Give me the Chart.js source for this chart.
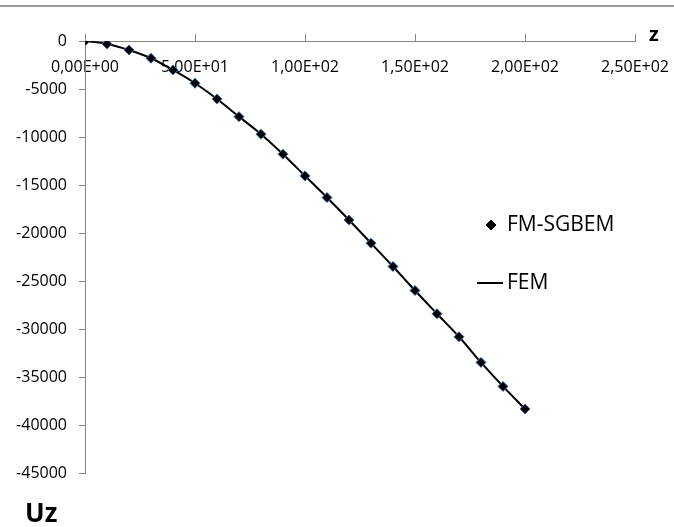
<!DOCTYPE html>
<html><head><meta charset="utf-8">
<script src="https://cdn.jsdelivr.net/npm/chart.js@4/dist/chart.umd.min.js"></script>
<style>html,body{margin:0;padding:0;background:#fff;}#wrap{width:674px;height:527px;position:relative;}</style>
</head><body><div id="wrap"><canvas id="c" width="674" height="527"></canvas></div>
<script>
// ---- data ----
const zValues = [0,10,20,30,40,50,60,70,80,90,100,110,120,130,140,150,160,170,180,190,200];
const fmSgbemUz = [0,-310,-940,-1800,-3020,-4400,-6040,-7880,-9710,-11790,-14050,-16310,-18650,-21060,-23490,-25990,-28410,-30810,-33480,-35980,-38330];
const femUz = [0,-310,-940,-1800,-3020,-4400,-6040,-7880,-9710,-11790,-14050,-16310,-18650,-21060,-23490,-25990,-28410,-30810,-33480,-35980,-38330];
const seriesNames = ['FM-SGBEM','FEM'];
const xTickValues = [0,50,100,150,200,250];
const yTickValues = [0,-5000,-10000,-15000,-20000,-25000,-30000,-35000,-40000,-45000];
const xTitle = 'z';
const yTitle = 'Uz';

function sci(v){
  if (v === 0) return '0,00E+00';
  const e = Math.floor(Math.log10(Math.abs(v)));
  const m = v / Math.pow(10, e);
  const es = (e < 0 ? '-' : '+') + String(Math.abs(e)).padStart(2,'0');
  return m.toFixed(2).replace('.', ',') + 'E' + es;
}

const FONT = "'Open Sans', 'Noto Sans', sans-serif";
const axisGray = '#868686';

const deco = {
  id: 'deco',
  beforeDraw(chart){
    const ctx = chart.ctx;
    ctx.save();
    ctx.strokeStyle = '#9a9a9a';
    ctx.lineWidth = 2;
    ctx.beginPath(); ctx.moveTo(0, 6); ctx.lineTo(674, 6); ctx.stroke();
    ctx.restore();
  },
  afterDraw(chart){
    const ctx = chart.ctx;
    ctx.save();
    ctx.fillStyle = '#000';
    ctx.textBaseline = 'alphabetic';
    ctx.font = "bold 20px " + FONT;
    ctx.textAlign = 'left';
    ctx.fillText(xTitle, 649, 41);
    ctx.font = "bold 26px " + FONT;
    ctx.fillText(yTitle, 25, 522);
    // legend
    const ds = chart.data.datasets;
    ctx.font = "21px " + FONT;
    ctx.textBaseline = 'middle';
    Chart.helpers.drawPoint(ctx, {pointStyle:'rectRot', radius:5, borderWidth:1}, 491, 225);
    ctx.fillStyle = '#000';
    ctx.fillText(ds[0].label, 507, 225);
    ctx.strokeStyle = '#000'; ctx.lineWidth = 2;
    ctx.beginPath(); ctx.moveTo(477, 283); ctx.lineTo(503, 283); ctx.stroke();
    ctx.fillText(ds[1].label, 507, 283);
    ctx.restore();
  }
};

new Chart(document.getElementById('c'), {
  type: 'scatter',
  data: {
    datasets: [
      {
        label: seriesNames[0],
        data: zValues.map((z,i)=>({x:z, y:fmSgbemUz[i]})),
        showLine: false,
        pointStyle: 'rectRot',
        pointRadius: 5,
        pointBackgroundColor: '#000',
        pointBorderColor: '#3c6aa8',
        pointBorderWidth: 1
      },
      {
        label: seriesNames[1],
        data: zValues.map((z,i)=>({x:z, y:femUz[i]})),
        showLine: true,
        borderColor: '#000',
        borderWidth: 2,
        pointRadius: 0,
        cubicInterpolationMode: 'monotone'
      }
    ]
  },
  options: {
    responsive: false,
    animation: false,
    devicePixelRatio: 1,
    layout: { padding: { left: 0, right: 39, top: 34, bottom: 54 } },
    plugins: { legend: { display: false }, tooltip: { enabled: false }, title: { display: false } },
    scales: {
      x: {
        type: 'linear',
        position: 'top',
        min: 0, max: 250,
        afterBuildTicks: s => { s.ticks = xTickValues.map(v => ({value: v})); },
        afterFit: s => { s.height = 7; s.paddingLeft = 0; s.paddingRight = 0; },
        ticks: { mirror: true, padding: 17, color: '#000', font: { family: FONT, size: 16 }, callback: v => sci(v), maxRotation: 0, autoSkip: false },
        grid: { drawOnChartArea: false, drawTicks: true, tickLength: 7, color: axisGray },
        border: { color: axisGray, width: 1 }
      },
      y: {
        type: 'linear',
        position: 'left',
        min: -45000, max: 0,
        afterBuildTicks: s => { s.ticks = yTickValues.map(v => ({value: v})); },
        afterFit: s => { s.width = 85; s.paddingTop = 0; s.paddingBottom = 0; },
        ticks: { padding: 12, color: '#000', font: { family: FONT, size: 16 }, callback: v => String(v) },
        grid: { drawOnChartArea: false, drawTicks: true, tickLength: 6, color: axisGray },
        border: { color: axisGray, width: 1 }
      }
    }
  },
  plugins: [deco]
});
</script></body></html>
